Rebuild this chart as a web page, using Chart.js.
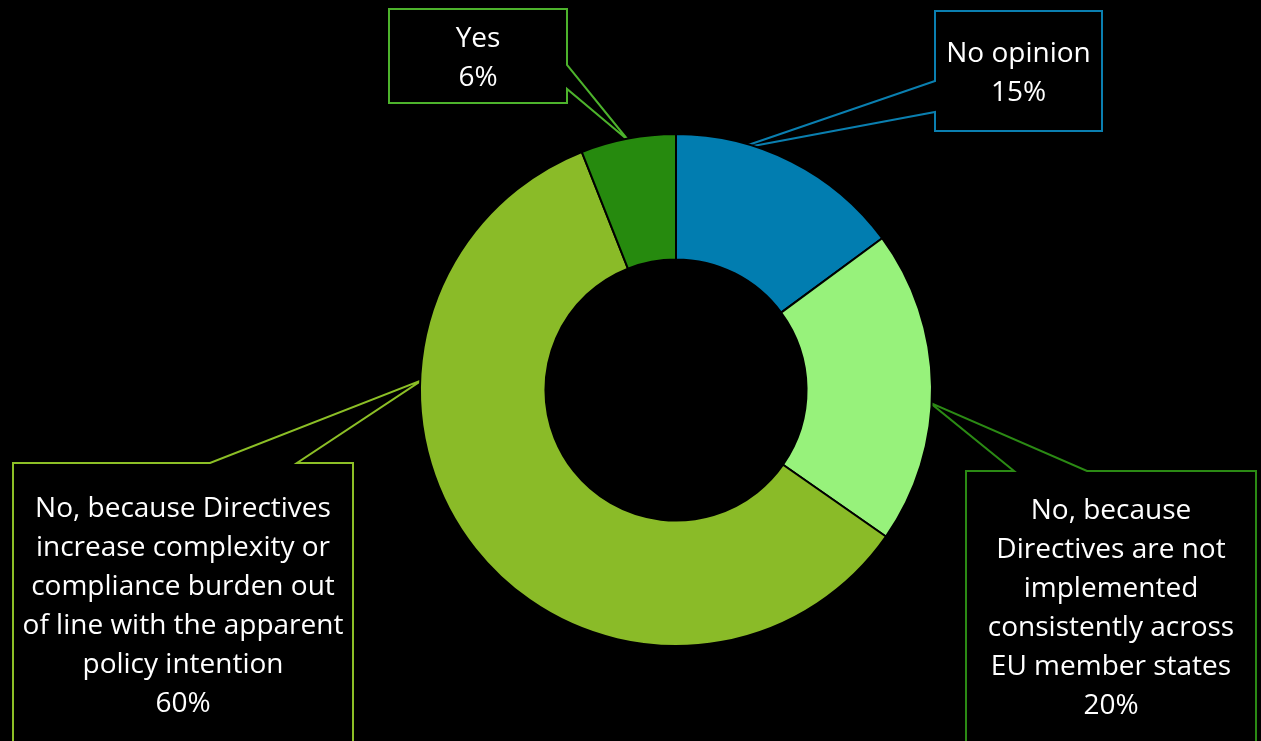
<!DOCTYPE html>
<html>
<head>
<meta charset="utf-8">
<script src="https://cdn.jsdelivr.net/npm/chart.js@4/dist/chart.umd.min.js"></script>
<style>
  html, body { margin: 0; padding: 0; background: #000; }
  #wrap { width: 1261px; height: 741px; position: relative; }
</style>
</head>
<body>
<div id="wrap"><canvas id="c" width="1261" height="741"></canvas></div>
<script>
// ---- data ----
const categories = [
  'No opinion',
  'No, because Directives are not implemented consistently across EU member states',
  'No, because Directives increase complexity or compliance burden out of line with the apparent policy intention',
  'Yes'
];
const values = [14.9, 19.8, 59.3, 6.0];
const percentLabels = ['15%', '20%', '60%', '6%'];
const labelLines = [
  ['No opinion'],
  ['No, because', 'Directives are not', 'implemented', 'consistently across', 'EU member states'],
  ['No, because Directives', 'increase complexity or', 'compliance burden out', 'of line with the apparent', 'policy intention'],
  ['Yes']
];
const sliceColors = ['#017DB0', '#97F27B', '#8ABB28', '#268A0E'];
const calloutColors = ['#0A7FB0', '#2B8A14', '#8CBF26', '#4DB32C'];

// ---- callout layout (box rect, where the leader leaves the box, anchor along slice) ----
const calloutLayout = [
  { box: [935, 11, 1102, 131], side: 'left',  a: 81,  b: 112, frac: 0.26, rOff: -8, text0: 54 },
  { box: [966, 471, 1256, 800], side: 'top',  a: 1014, b: 1087, frac: 0.55, rOff: -2, text0: 511 },
  { box: [13, 463, 353, 800], side: 'top',    a: 210, b: 297, frac: 0.69, rOff: -2, text0: 509 },
  { box: [389, 9, 567, 103], side: 'right',   a: 65,  b: 89,  frac: 0.5, rOff: -2, text0: 39 }
];
const FONT = '28px "Open Sans", Lato, sans-serif';
const LINE_H = 39;

const calloutPlugin = {
  id: 'callouts',
  beforeDatasetsDraw(chart) {
    const ctx = chart.ctx;
    const meta = chart.getDatasetMeta(0);
    meta.data.forEach((arc, i) => {
      const L = calloutLayout[i];
      const p = arc.getProps(['x', 'y', 'startAngle', 'endAngle', 'outerRadius'], true);
      const ang = p.startAngle + (p.endAngle - p.startAngle) * L.frac;
      const r = p.outerRadius + L.rOff;
      const tx = p.x + Math.cos(ang) * r;
      const ty = p.y + Math.sin(ang) * r;
      const [x0, y0, x1, y1] = L.box;
      ctx.save();
      ctx.beginPath();
      if (L.side === 'left') {
        ctx.moveTo(x0, y0); ctx.lineTo(x1, y0); ctx.lineTo(x1, y1); ctx.lineTo(x0, y1);
        ctx.lineTo(x0, L.b); ctx.lineTo(tx, ty); ctx.lineTo(x0, L.a); ctx.closePath();
      } else if (L.side === 'right') {
        ctx.moveTo(x0, y0); ctx.lineTo(x1, y0); ctx.lineTo(x1, L.a); ctx.lineTo(tx, ty);
        ctx.lineTo(x1, L.b); ctx.lineTo(x1, y1); ctx.lineTo(x0, y1); ctx.closePath();
      } else { // top
        ctx.moveTo(x0, y0); ctx.lineTo(L.a, y0); ctx.lineTo(tx, ty); ctx.lineTo(L.b, y0);
        ctx.lineTo(x1, y0); ctx.lineTo(x1, y1); ctx.lineTo(x0, y1); ctx.closePath();
      }
      ctx.fillStyle = '#000';
      ctx.fill();
      ctx.lineWidth = 2;
      ctx.strokeStyle = calloutColors[i];
      ctx.lineJoin = 'miter';
      ctx.stroke();
      // text
      ctx.fillStyle = '#ffffff';
      ctx.font = FONT;
      ctx.textAlign = 'center';
      ctx.textBaseline = 'middle';
      const cx = (x0 + Math.min(x1, 1261)) / 2;
      const lines = labelLines[i].concat([percentLabels[i]]);
      lines.forEach((t, k) => ctx.fillText(t, cx, L.text0 + k * LINE_H));
      ctx.restore();
    });
  }
};

new Chart(document.getElementById('c'), {
  type: 'doughnut',
  data: {
    labels: categories,
    datasets: [{
      data: values,
      backgroundColor: sliceColors,
      borderColor: '#000000',
      borderWidth: 2,
      hoverOffset: 0
    }]
  },
  options: {
    responsive: false,
    animation: false,
    cutout: '51%',
    layout: { padding: { left: 419, right: 328, top: 133, bottom: 94 } },
    plugins: {
      legend: { display: false },
      tooltip: { enabled: false }
    },
    events: []
  },
  plugins: [calloutPlugin]
});
</script>
</body>
</html>
